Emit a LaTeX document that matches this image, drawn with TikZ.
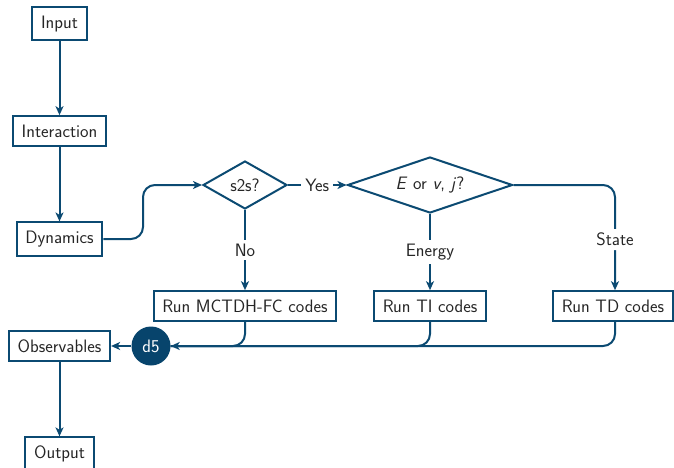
\documentclass[tikz,border=0pt]{standalone}
\usetikzlibrary{arrows.meta,shapes.geometric}
\definecolor{flowblue}{RGB}{11,74,114}
\definecolor{dotblue}{RGB}{7,68,108}
\begin{document}
\begin{tikzpicture}[x=1pt,y=-1pt,
  font=\sffamily\fontsize{18}{21}\selectfont,
  every node/.style={text=black!85},
  procbox/.style={draw=flowblue,line width=2pt,rectangle,inner xsep=8.8pt,inner ysep=8.5pt,fill=white},
  decide/.style={draw=flowblue,line width=2pt,diamond,inner sep=0pt,fill=white},
  link/.style={draw=flowblue,line width=2pt,-{Stealth[length=9pt,width=8pt,inset=2.5pt]}},
  plainlink/.style={draw=flowblue,line width=2pt},
  tag/.style={fill=white,inner sep=4pt},
  hub/.style={circle,fill=dotblue,minimum size=39pt,inner sep=0pt,text=white}]
\useasboundingbox (0,0) rectangle (674,468);

% process boxes
\node[procbox] (inp) at (59.5,24) {Input};
\node[procbox] (inter) at (59.5,131) {Interaction};
\node[procbox] (dyn) at (59.5,239) {Dynamics};
\node[procbox] (mc) at (245,306) {Run MCTDH-FC codes};
\node[procbox] (ti) at (430,306) {Run TI codes};
\node[procbox] (td) at (613,306) {Run TD codes};
\node[procbox] (obs) at (59.5,346) {Observables};
\node[procbox] (out) at (59.5,454) {Output};

% decisions: empty outlines with the question set on top
\node[decide,minimum width=84pt,minimum height=48pt,label=center:{s2s?}] (s2s) at (245,185) {};
\node[decide,minimum width=165pt,minimum height=56pt,
      label=center:{\textit{E} or \textit{v}, \textit{j}?}] (ej) at (430,185) {};

% merge point
\node[hub] (d5) at (151,346) {d5};

\coordinate (j1) at (143,185);

% main chain
\draw[link] (inp) -- (inter);
\draw[link] (inter) -- (dyn);
\draw[link,rounded corners=12pt] (dyn.east) -| (j1) -- (s2s.west);
\draw[link] (s2s.east) -- node[tag] {Yes} (ej.west);
\draw[link] (s2s.south) -- node[tag,pos=0.5] {No} (mc.north);
\draw[link] (ej.south) -- node[tag,pos=0.5] {Energy} (ti.north);
\draw[link,rounded corners=12pt] (ej.east) -| node[tag,pos=0.76] {State} ([xshift=2pt]td.north);

% results gathered at the merge point
\draw[plainlink,rounded corners=12pt] ([xshift=2pt]td.south) |- (d5.east);
\draw[plainlink,rounded corners=12pt] (ti.south) |- (d5.east);
\draw[link,rounded corners=12pt] (mc.south) |- (d5.east);
\draw[link] (d5) -- (obs);
\draw[link] (obs) -- (out);
\end{tikzpicture}
\end{document}
